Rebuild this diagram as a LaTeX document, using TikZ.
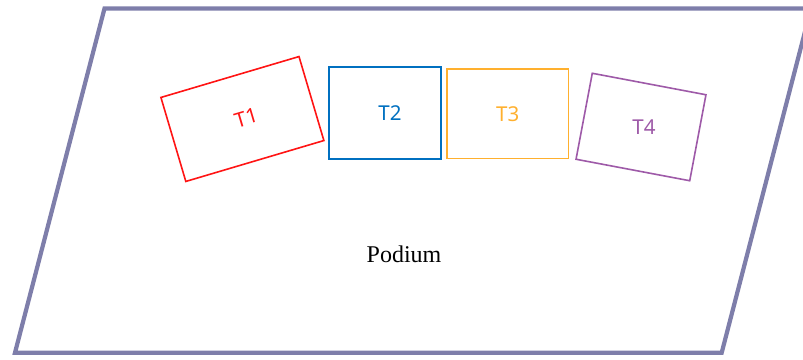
\documentclass[tikz,border=0pt]{standalone}
\usepackage{fontspec}
\setmainfont{Liberation Serif}
\newfontfamily\tfont{Noto Sans}
\definecolor{podcol}{RGB}{126,126,170}
\definecolor{tred}{RGB}{255,20,20}
\definecolor{tblue}{RGB}{0,112,192}
\definecolor{torange}{RGB}{255,176,46}
\definecolor{tpurple}{RGB}{158,90,168}
\tikzset{
  tbox/.style={draw, line width=1.6pt, inner sep=0pt, font=\tfont\fontsize{20.5}{24}\selectfont},
}
\begin{document}
\begin{tikzpicture}[x=1pt,y=-1pt]
\useasboundingbox (0,0) rectangle (803,359);
\clip (0,0) rectangle (803,359);
\coordinate (p1) at (104.5,8.5);
\coordinate (p2) at (811,8.5);
\coordinate (p3) at (721.7,352.7);
\coordinate (p4) at (15,352.7);
\draw[podcol, line width=4.2pt, line join=miter] (p1) -- (p2) -- (p3) -- (p4) -- cycle;
\node[tbox, draw=tred, text=tred, minimum width=144pt, minimum height=87.6pt, rotate=16.5] (T1) at (242.4,119) {\hspace*{8pt}T1};
\node[tbox, draw=tblue, text=tblue, minimum width=112pt, minimum height=92.3pt] (T2) at (385,112.9) {\hspace*{10pt}T2};
\node[tbox, draw=torange, text=torange, minimum width=121.3pt, minimum height=89.3pt] (T3) at (507.7,113.7) {\raisebox{-3pt}{T3}};
\node[tbox, draw=tpurple, text=tpurple, minimum width=115.7pt, minimum height=87.5pt, rotate=-10.7] (T4) at (641,127) {\hspace*{6pt}\rotatebox{10.7}{T4}};
\node[font=\fontsize{24}{28}\selectfont] (pod) at (404,254) {Podium};
\end{tikzpicture}
\end{document}
